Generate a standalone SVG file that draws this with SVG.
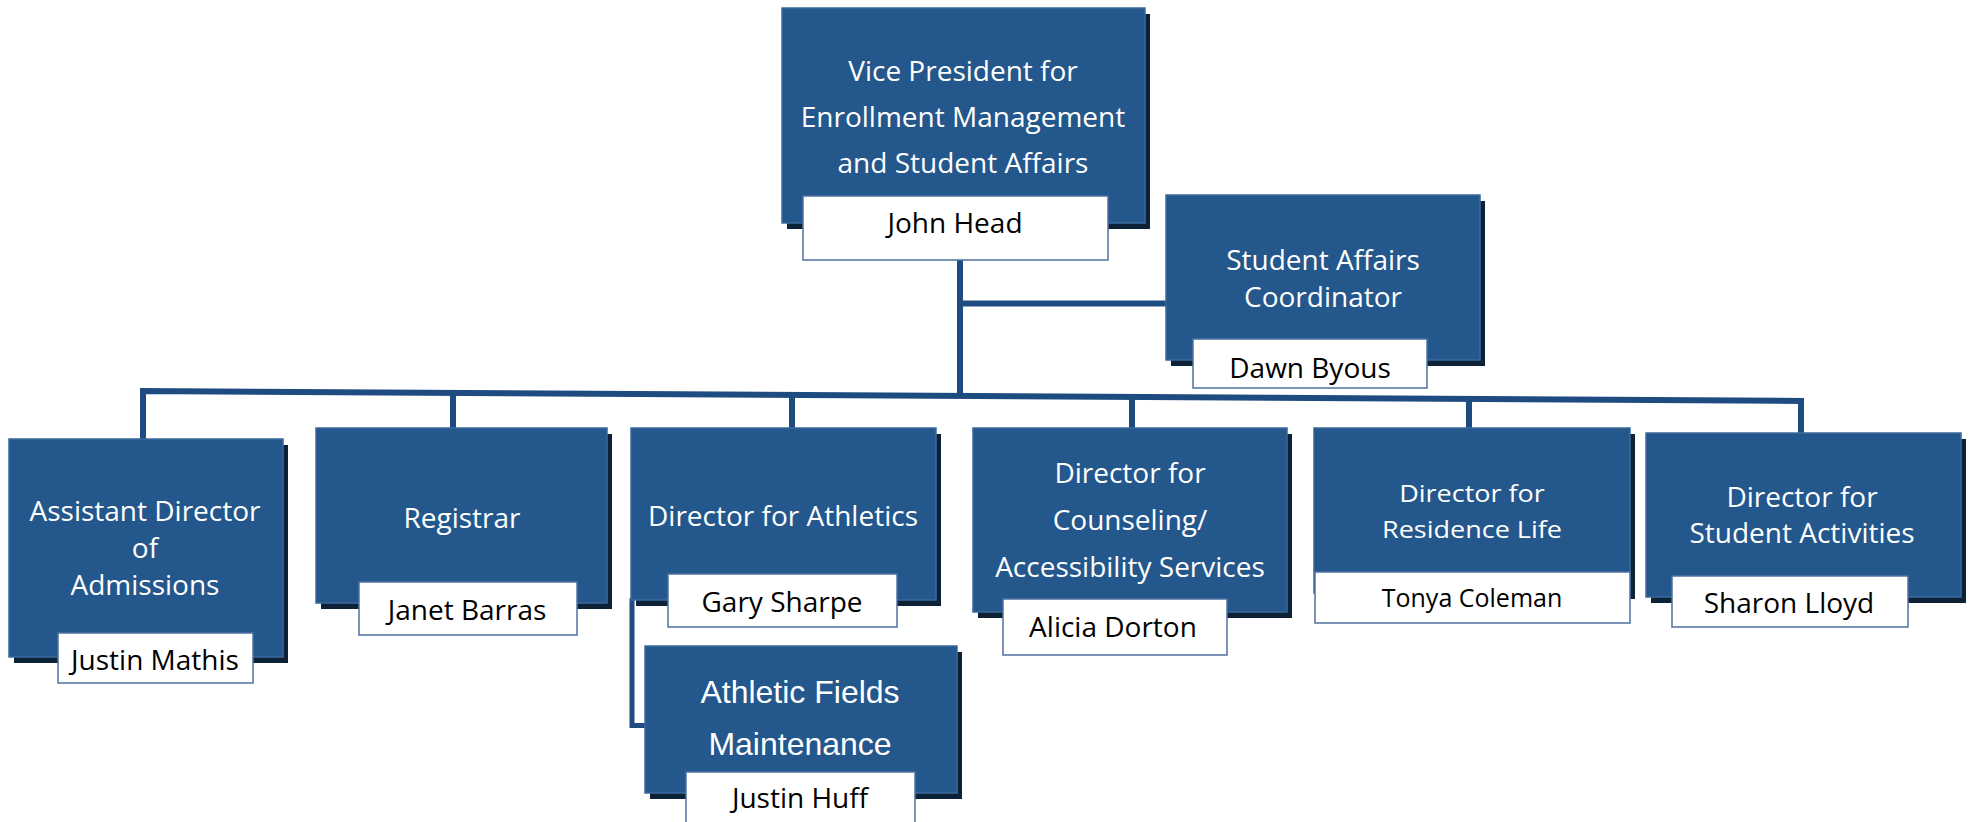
<svg xmlns="http://www.w3.org/2000/svg" width="1969" height="822" viewBox="0 0 1969 822">
<defs>
<style>
.box{fill:#24578b;stroke:#3a699b;stroke-width:1.5}
.shadow{fill:#0d2236}
.name{fill:#ffffff;stroke:#4e72a0;stroke-width:1.5}
.t{font-family:"Open Sans","Liberation Sans",sans-serif;font-size:28px;fill:#ffffff;text-anchor:middle}
.a{font-family:"Liberation Sans",Arial,sans-serif;font-size:32px;fill:#ffffff;text-anchor:middle}
.n{font-family:"Open Sans","Liberation Sans",sans-serif;font-size:28px;fill:#000000;text-anchor:middle}
.c{fill:none;stroke:#1f4c80;stroke-width:6;stroke-linejoin:miter}
</style>
</defs>
<rect width="1969" height="822" fill="#ffffff"/>
<g id="connectors">
<path class="c" d="M960 260 V396"/>
<path class="c" d="M960 303.5 H1166"/>
<path class="c" d="M143 439 V391 L1801 401 V433"/>
<path class="c" d="M453 393 V428"/>
<path class="c" d="M792 395 V428"/>
<path class="c" d="M1132 397 V428"/>
<path class="c" d="M1469 399 V428"/>
<path class="c" style="stroke-width:5" d="M632 598 V725.5 H646"/>
</g>
<g id="vp">
<rect class="shadow" x="787" y="14" width="363" height="215"/>
<rect class="box" x="782" y="8" width="363" height="215"/>
<text class="t" x="963" y="81">Vice President for</text>
<text class="t" x="963" y="127">Enrollment Management</text>
<text class="t" x="963" y="173">and Student Affairs</text>
<rect class="name" x="803" y="196" width="305" height="64"/>
<text class="n" x="955" y="233">John Head</text>
</g>
<g id="sac">
<rect class="shadow" x="1171" y="201" width="314" height="165"/>
<rect class="box" x="1166" y="195" width="314" height="165"/>
<text class="t" x="1323" y="270">Student Affairs</text>
<text class="t" x="1323" y="307">Coordinator</text>
<rect class="name" x="1193" y="339" width="234" height="49"/>
<text class="n" x="1310" y="378">Dawn Byous</text>
</g>
<g id="admissions">
<rect class="shadow" x="14" y="445" width="274" height="218"/>
<rect class="box" x="9" y="439" width="274" height="218"/>
<text class="t" x="145" y="521">Assistant Director</text>
<text class="t" x="145" y="558">of</text>
<text class="t" x="145" y="595">Admissions</text>
<rect class="name" x="58" y="633" width="195" height="50"/>
<text class="n" x="155" y="670">Justin Mathis</text>
</g>
<g id="registrar">
<rect class="shadow" x="321" y="434" width="291" height="175"/>
<rect class="box" x="316" y="428" width="291" height="175"/>
<text class="t" x="462" y="528">Registrar</text>
<rect class="name" x="359" y="582" width="218" height="53"/>
<text class="n" x="467" y="620">Janet Barras</text>
</g>
<g id="athletics">
<rect class="shadow" x="636" y="434" width="305" height="172"/>
<rect class="box" x="631" y="428" width="305" height="172"/>
<text class="t" x="783" y="526">Director for Athletics</text>
<rect class="name" x="668" y="574" width="229" height="53"/>
<text class="n" x="782" y="612">Gary Sharpe</text>
</g>
<g id="fields">
<rect class="shadow" x="650" y="652" width="312" height="147"/>
<rect class="box" x="645" y="646" width="312" height="147"/>
<text class="a" x="800" y="703">Athletic Fields</text>
<text class="a" x="800" y="755">Maintenance</text>
<rect class="name" x="686" y="772" width="229" height="60"/>
<text class="n" x="800" y="808">Justin Huff</text>
</g>
<g id="counseling">
<rect class="shadow" x="978" y="434" width="314" height="184"/>
<rect class="box" x="973" y="428" width="314" height="184"/>
<text class="t" x="1130" y="483">Director for</text>
<text class="t" x="1130" y="530">Counseling/</text>
<text class="t" x="1130" y="577">Accessibility Services</text>
<rect class="name" x="1003" y="599" width="224" height="56"/>
<text class="n" x="1113" y="637">Alicia Dorton</text>
</g>
<g id="residence">
<rect class="shadow" x="1319" y="434" width="316" height="165"/>
<rect class="box" x="1314" y="428" width="316" height="165"/>
<text class="t" style="font-size:27px" transform="translate(1472 502) scale(1 0.88)">Director for</text>
<text class="t" style="font-size:27px" transform="translate(1472 538) scale(1 0.88)">Residence Life</text>
<rect class="name" x="1315" y="572" width="315" height="51"/>
<text class="n" style="font-size:25px" x="1472" y="607">Tonya Coleman</text>
</g>
<g id="activities">
<rect class="shadow" x="1651" y="439" width="315" height="164"/>
<rect class="box" x="1646" y="433" width="315" height="164"/>
<text class="t" x="1802" y="507">Director for</text>
<text class="t" x="1802" y="543">Student Activities</text>
<rect class="name" x="1672" y="576" width="236" height="51"/>
<text class="n" x="1789" y="613">Sharon Lloyd</text>
</g>
</svg>
